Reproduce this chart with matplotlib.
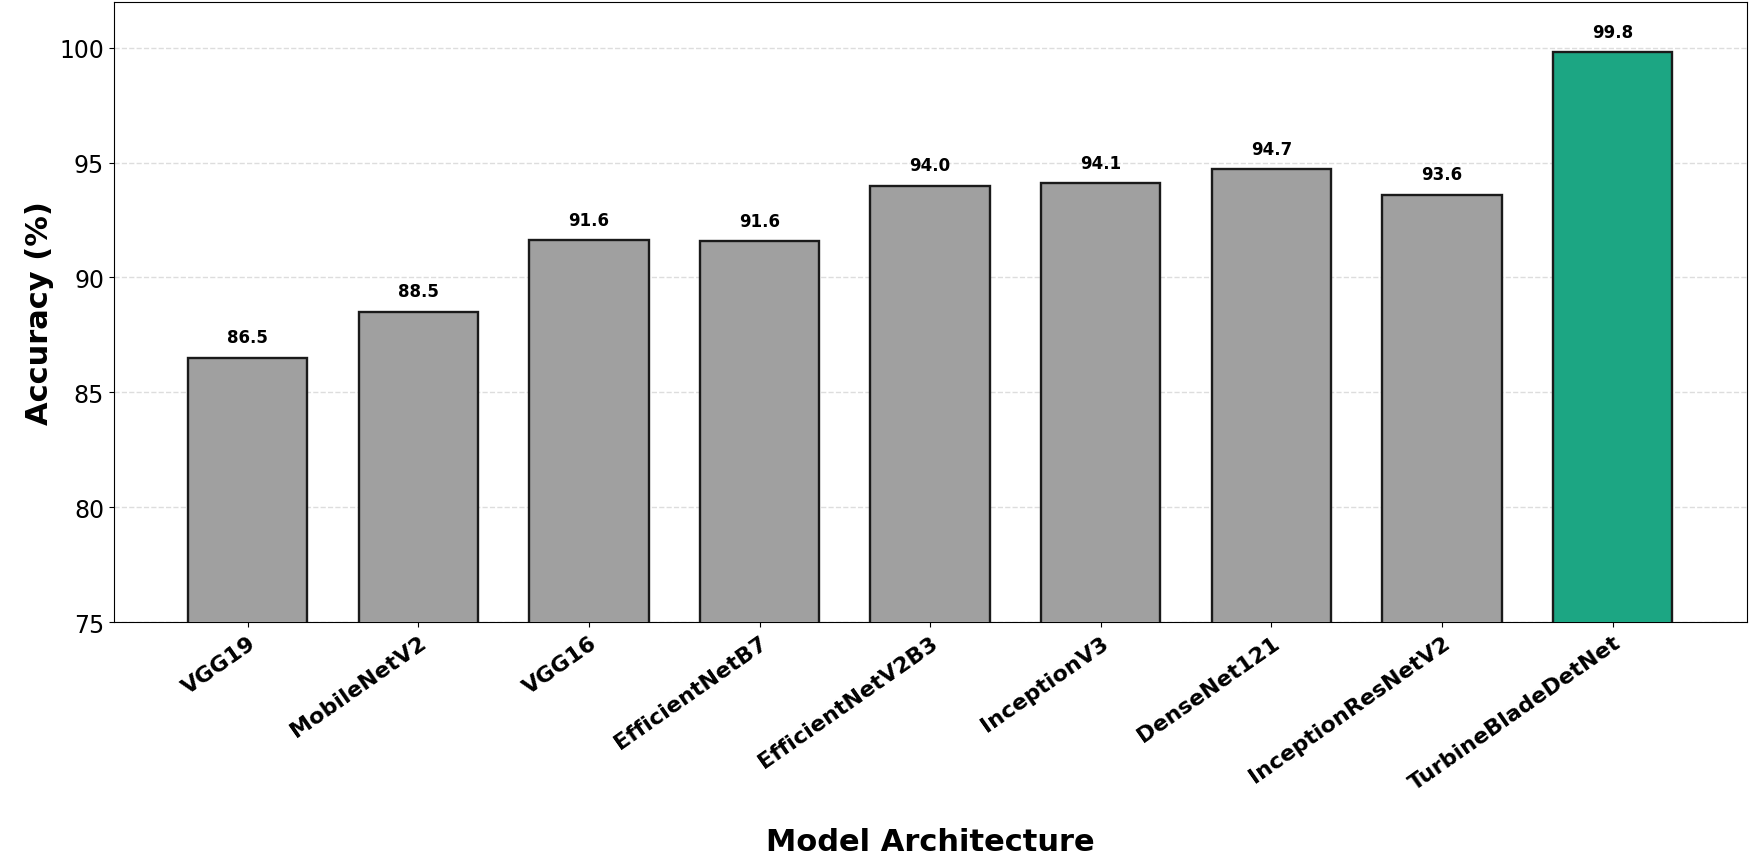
import matplotlib.pyplot as plt
import numpy as np

models = ["VGG19", "MobileNetV2", "VGG16", "EfficientNetB7", "EfficientNetV2B3",
          "InceptionV3", "DenseNet121", "InceptionResNetV2", "TurbineBladeDetNet"]
accuracy = [86.5, 88.5, 91.62, 91.57, 94.0, 94.1, 94.7, 93.6, 99.8]

colors = ["#a0a0a0"] * (len(models) - 1) + ["#1ca683"]

fig, ax = plt.subplots(figsize=(17.5, 8.54), dpi=100)
fig.subplots_adjust(left=0.065, right=0.998, top=0.997, bottom=0.27)

x = np.arange(len(models))
bars = ax.bar(x, accuracy, width=0.7, color=colors, edgecolor="#1a1a1a", linewidth=1.7, zorder=3)

for bar, val in zip(bars, accuracy):
    ax.text(bar.get_x() + bar.get_width() / 2, val + 0.5, f"{val:.1f}",
            ha="center", va="bottom", fontsize=12, fontweight="bold")

ax.set_ylim(75, 102)
ax.set_yticks([75, 80, 85, 90, 95, 100])
ax.tick_params(axis="y", labelsize=17)
ax.set_xticks(x)
ax.set_xticklabels(models, rotation=35, ha="right", rotation_mode="anchor",
                   fontsize=16, fontweight="bold")
ax.set_ylabel("Accuracy (%)", fontsize=22, fontweight="bold")
ax.set_xlabel("Model Architecture", fontsize=22, fontweight="bold", labelpad=24)
ax.grid(axis="y", linestyle="--", color="#dddddd", linewidth=1, zorder=0)

fig.savefig("out.png", dpi=100)
plt.close(fig)
